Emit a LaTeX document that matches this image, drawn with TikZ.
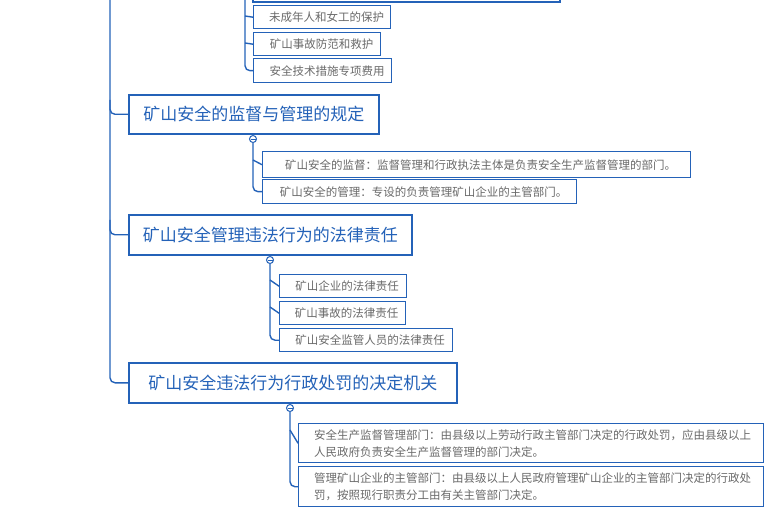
\documentclass[tikz,border=0pt]{standalone}
\usepackage{fontspec}
\setmainfont{Noto Sans CJK SC}
\definecolor{bl}{HTML}{2462B8}
\definecolor{tx}{HTML}{6A6A6A}
\begin{document}
\begin{tikzpicture}[x=1pt,y=-1pt,
  mainbox/.style={draw=bl,line width=1.6pt,fill=white,text=bl,font=\fontsize{17}{20}\selectfont,anchor=north west,inner sep=0pt},
  subbox/.style={draw=bl,line width=1.4pt,fill=white,text=tx,font=\fontsize{11.5}{17}\selectfont,anchor=north west,inner sep=0pt,align=left},
  ln/.style={draw=bl,line width=1.4pt,rounded corners=5pt},
  knob/.style={circle,draw=bl,fill=white,line width=1pt,minimum size=7pt,inner sep=0pt}]
\useasboundingbox (0,0) rectangle (767,510);
% partial top box
\draw[draw=bl,line width=1.6pt] (253,-10) -- (253,2) -- (560,2) -- (560,-10);
% sub branches top
\node[subbox,minimum width=137,minimum height=23] (t1) at (253,5) {\hspace{9pt}未成年人和女工的保护};
\node[subbox,minimum width=127,minimum height=23] (t2) at (253,32) {\hspace{9pt}矿山事故防范和救护};
\node[subbox,minimum width=138,minimum height=24] (t3) at (253,58) {\hspace{9pt}安全技术措施专项费用};
\coordinate (tt) at (245,-5);
\draw[ln] (tt) |- (t3.west);
\draw[ln] (245,16) -- (t1.west);
\draw[ln] (245,43) -- (t2.west);
% main boxes
\node[mainbox,minimum width=250,minimum height=39] (m1) at (128,94) {矿山安全的监督与管理的规定};
\node[mainbox,minimum width=283,minimum height=40] (m2) at (128,214) {矿山安全管理违法行为的法律责任};
\node[mainbox,minimum width=328,minimum height=40] (m3) at (128,362) {矿山安全违法行为行政处罚的决定机关};
\coordinate (tr) at (110,-5);
\draw[ln] (tr) |- (m3.west);
\draw[ln] (110,100) |- (m1.west);
\draw[ln] (110,220) |- (m2.west);
% group 1
\node[subbox,minimum width=428,minimum height=26] (a1) at (262,151) {\hspace{8pt}矿山安全的监督：监督管理和行政执法主体是负责安全生产监督管理的部门。};
\node[subbox,minimum width=314,minimum height=24] (a2) at (262,179) {\hspace{8pt}矿山安全的管理：专设的负责管理矿山企业的主管部门。};
\node[knob] (k1) at (253,139) {};
\draw[ln] (k1) |- (a2.west);
\draw[ln] (253,160) -- (a1.west);
\draw[bl,line width=0.8pt] (250.5,139) -- (255.5,139);
% group 2
\node[subbox,minimum width=127,minimum height=23] (b1) at (279,274) {\hspace{8pt}矿山企业的法律责任};
\node[subbox,minimum width=126,minimum height=23] (b2) at (279,301) {\hspace{8pt}矿山事故的法律责任};
\node[subbox,minimum width=173,minimum height=23] (b3) at (279,328) {\hspace{8pt}矿山安全监管人员的法律责任};
\node[knob] (k2) at (270,260) {};
\draw[ln] (k2) |- (b3.west);
\draw[ln] (270,280) -- (b1.west);
\draw[ln] (270,307) -- (b2.west);
\draw[bl,line width=0.8pt] (267.5,260) -- (272.5,260);
% group 3
\node[subbox,minimum width=465,minimum height=39,text width=450] (c1) at (298,423) {\hspace*{8pt}安全生产监督管理部门：由县级以上劳动行政主管部门决定的行政处罚，应由县级以上\\\hspace*{8pt}人民政府负责安全生产监督管理的部门决定。};
\node[subbox,minimum width=465,minimum height=40,text width=450] (c2) at (298,466) {\hspace*{8pt}管理矿山企业的主管部门：由县级以上人民政府管理矿山企业的主管部门决定的行政处\\\hspace*{8pt}罚，按照现行职责分工由有关主管部门决定。};
\node[knob] (k3) at (290,408) {};
\draw[ln] (k3) |- (c2.west);
\draw[ln] (290,430) -- (c1.west);
\draw[bl,line width=0.8pt] (287.5,408) -- (292.5,408);
\end{tikzpicture}
\end{document}
